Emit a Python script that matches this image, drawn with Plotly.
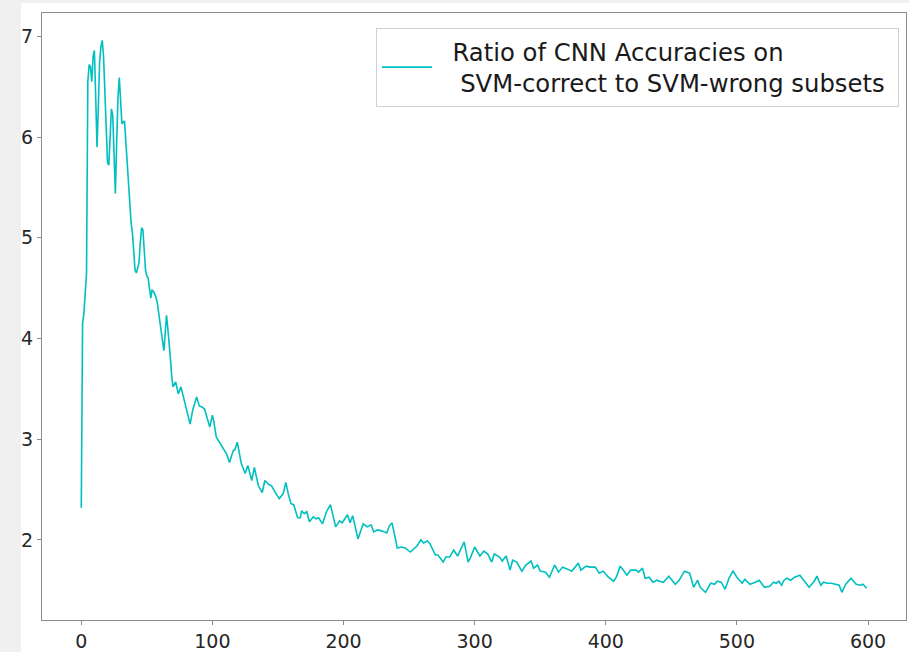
import plotly.graph_objects as go

epochs = [0, 1, 2, 3, 4, 5, 6, 7, 8, 9, 10, 11, 12, 13, 14, 15, 16, 17, 18, 19,
          20, 21, 22, 23, 24, 25, 26, 27, 28, 29, 30, 31, 32, 33, 34, 35, 36, 37, 38, 39,
          40, 41, 42, 43, 44, 45, 46, 47, 48, 49, 50, 51, 52, 53, 54, 55, 56, 57, 58, 59,
          60, 61, 62, 63, 64, 65, 66, 67, 68, 69, 70, 72, 74, 76, 78, 80, 83, 85, 88, 90,
          92, 94, 96, 98, 100, 101, 103, 106, 108, 111, 113, 116, 117, 119, 122, 125, 127, 130, 132, 135,
          138, 140, 143, 145, 148, 151, 154, 156, 158, 160, 162, 165, 167, 168, 170, 172, 174, 177, 179, 181,
          184, 187, 190, 194, 197, 199, 200, 203, 205, 207, 211, 215, 218, 221, 223, 226, 229, 233, 235, 237,
          241, 244, 247, 251, 256, 259, 261, 264, 266, 270, 272, 276, 278, 281, 284, 287, 292, 295, 297, 300,
          304, 307, 310, 313, 315, 319, 321, 324, 327, 329, 332, 336, 339, 343, 345, 348, 350, 354, 357, 361,
          364, 367, 371, 374, 376, 379, 381, 385, 388, 392, 395, 398, 402, 406, 408, 411, 414, 416, 419, 421,
          423, 425, 428, 430, 433, 436, 439, 441, 444, 448, 453, 456, 460, 464, 467, 470, 472, 476, 480, 483,
          485, 488, 491, 494, 497, 500, 504, 506, 510, 514, 517, 521, 525, 528, 530, 532, 534, 536, 538, 541,
          544, 548, 552, 555, 559, 561, 564, 566, 569, 572, 575, 578, 580, 583, 587, 591, 594, 596, 599]

ratio = [2.32, 4.15, 4.25, 4.45, 4.65, 6.55, 6.72, 6.70, 6.55, 6.80, 6.86, 6.40, 5.90, 6.30, 6.75, 6.90, 6.96, 6.80, 6.50, 6.05,
         5.75, 5.72, 5.95, 6.28, 6.22, 5.80, 5.44, 5.95, 6.40, 6.59, 6.30, 6.13, 6.15, 6.16, 5.95, 5.75, 5.50, 5.28, 5.15, 5.05,
         4.85, 4.68, 4.65, 4.72, 4.75, 4.95, 5.10, 5.08, 4.85, 4.68, 4.62, 4.60, 4.50, 4.40, 4.48, 4.47, 4.44, 4.41, 4.35, 4.25,
         4.20, 4.10, 3.95, 3.88, 4.05, 4.23, 4.10, 3.90, 3.80, 3.62, 3.52, 3.57, 3.45, 3.52, 3.42, 3.30, 3.15, 3.29, 3.42, 3.33,
         3.32, 3.30, 3.20, 3.12, 3.24, 3.18, 3.02, 2.96, 2.92, 2.85, 2.77, 2.89, 2.89, 2.97, 2.76, 2.66, 2.74, 2.59, 2.72, 2.54,
         2.47, 2.59, 2.55, 2.54, 2.47, 2.41, 2.46, 2.57, 2.45, 2.36, 2.35, 2.22, 2.22, 2.29, 2.26, 2.28, 2.18, 2.23, 2.21, 2.22,
         2.16, 2.28, 2.35, 2.13, 2.19, 2.17, 2.19, 2.25, 2.17, 2.24, 2.01, 2.16, 2.13, 2.15, 2.08, 2.10, 2.09, 2.07, 2.14, 2.17,
         1.92, 1.93, 1.92, 1.88, 1.94, 2.00, 1.97, 1.99, 1.96, 1.85, 1.85, 1.78, 1.83, 1.83, 1.90, 1.84, 1.98, 1.78, 1.83, 1.93,
         1.84, 1.89, 1.86, 1.78, 1.86, 1.83, 1.79, 1.84, 1.70, 1.80, 1.78, 1.69, 1.75, 1.79, 1.72, 1.75, 1.69, 1.68, 1.63, 1.75,
         1.68, 1.73, 1.71, 1.69, 1.72, 1.77, 1.70, 1.74, 1.73, 1.73, 1.67, 1.69, 1.63, 1.59, 1.63, 1.74, 1.69, 1.65, 1.70, 1.70,
         1.70, 1.68, 1.72, 1.62, 1.63, 1.58, 1.60, 1.59, 1.58, 1.64, 1.56, 1.60, 1.69, 1.67, 1.53, 1.60, 1.53, 1.48, 1.57, 1.56,
         1.59, 1.58, 1.51, 1.62, 1.69, 1.63, 1.57, 1.61, 1.56, 1.58, 1.60, 1.53, 1.54, 1.58, 1.57, 1.59, 1.55, 1.60, 1.62, 1.60,
         1.63, 1.65, 1.58, 1.53, 1.59, 1.64, 1.55, 1.58, 1.57, 1.57, 1.56, 1.55, 1.48, 1.56, 1.62, 1.56, 1.55, 1.56, 1.52]

x_ticks = [0, 100, 200, 300, 400, 500, 600]
y_ticks = [2, 3, 4, 5, 6, 7]
legend_label = ("\u00a0\u00a0Ratio of CNN Accuracies on<br>"
                "\u00a0\u00a0\u00a0SVM-correct to SVM-wrong subsets\u00a0")

W, H = 909, 652
L, R, T, B = 42, 3, 13, 32
pw = W - L - R
ph = H - T - B

fig = go.Figure()
fig.add_trace(go.Scatter(
    x=epochs, y=ratio, mode="lines", name=legend_label,
    line=dict(color="#00bfbf", width=1.6),
))

axis_common = dict(
    showline=True, linecolor="#8c8c8c", linewidth=1.3, mirror=True,
    ticks="outside", ticklen=4, tickwidth=1, tickcolor="#8c8c8c",
    showgrid=False, zeroline=False, automargin=False,
    tickfont=dict(family="DejaVu Sans", size=19, color="#262626"),
)

fig.update_layout(
    width=W, height=H, autosize=False,
    margin=dict(l=L, r=R, t=T, b=B, pad=0),
    paper_bgcolor="white", plot_bgcolor="white",
    xaxis=dict(range=[-29.95, 628.95], tickvals=x_ticks, **axis_common),
    yaxis=dict(range=[1.205, 7.232], tickvals=y_ticks, **axis_common),
    showlegend=True,
    legend=dict(
        x=(376 - L) / pw, y=1 - (28 - T) / ph, xanchor="left", yanchor="top",
        bgcolor="white", bordercolor="#d0d0d0", borderwidth=1,
        font=dict(family="DejaVu Sans", size=24.3, color="#1a1a1a"),
        itemwidth=50,
    ),
    shapes=[
        dict(type="rect", xref="paper", yref="paper", layer="below",
             x0=-L / pw, x1=(21 - L) / pw, y0=-B / ph, y1=1 + T / ph,
             fillcolor="#f0f0f0", line=dict(width=0)),
        dict(type="rect", xref="paper", yref="paper", layer="below",
             x0=-L / pw, x1=1 + R / pw, y0=1 + (T - 3) / ph, y1=1 + T / ph,
             fillcolor="#f0f0f0", line=dict(width=0)),
    ],
)

fig.write_html("out.html")
